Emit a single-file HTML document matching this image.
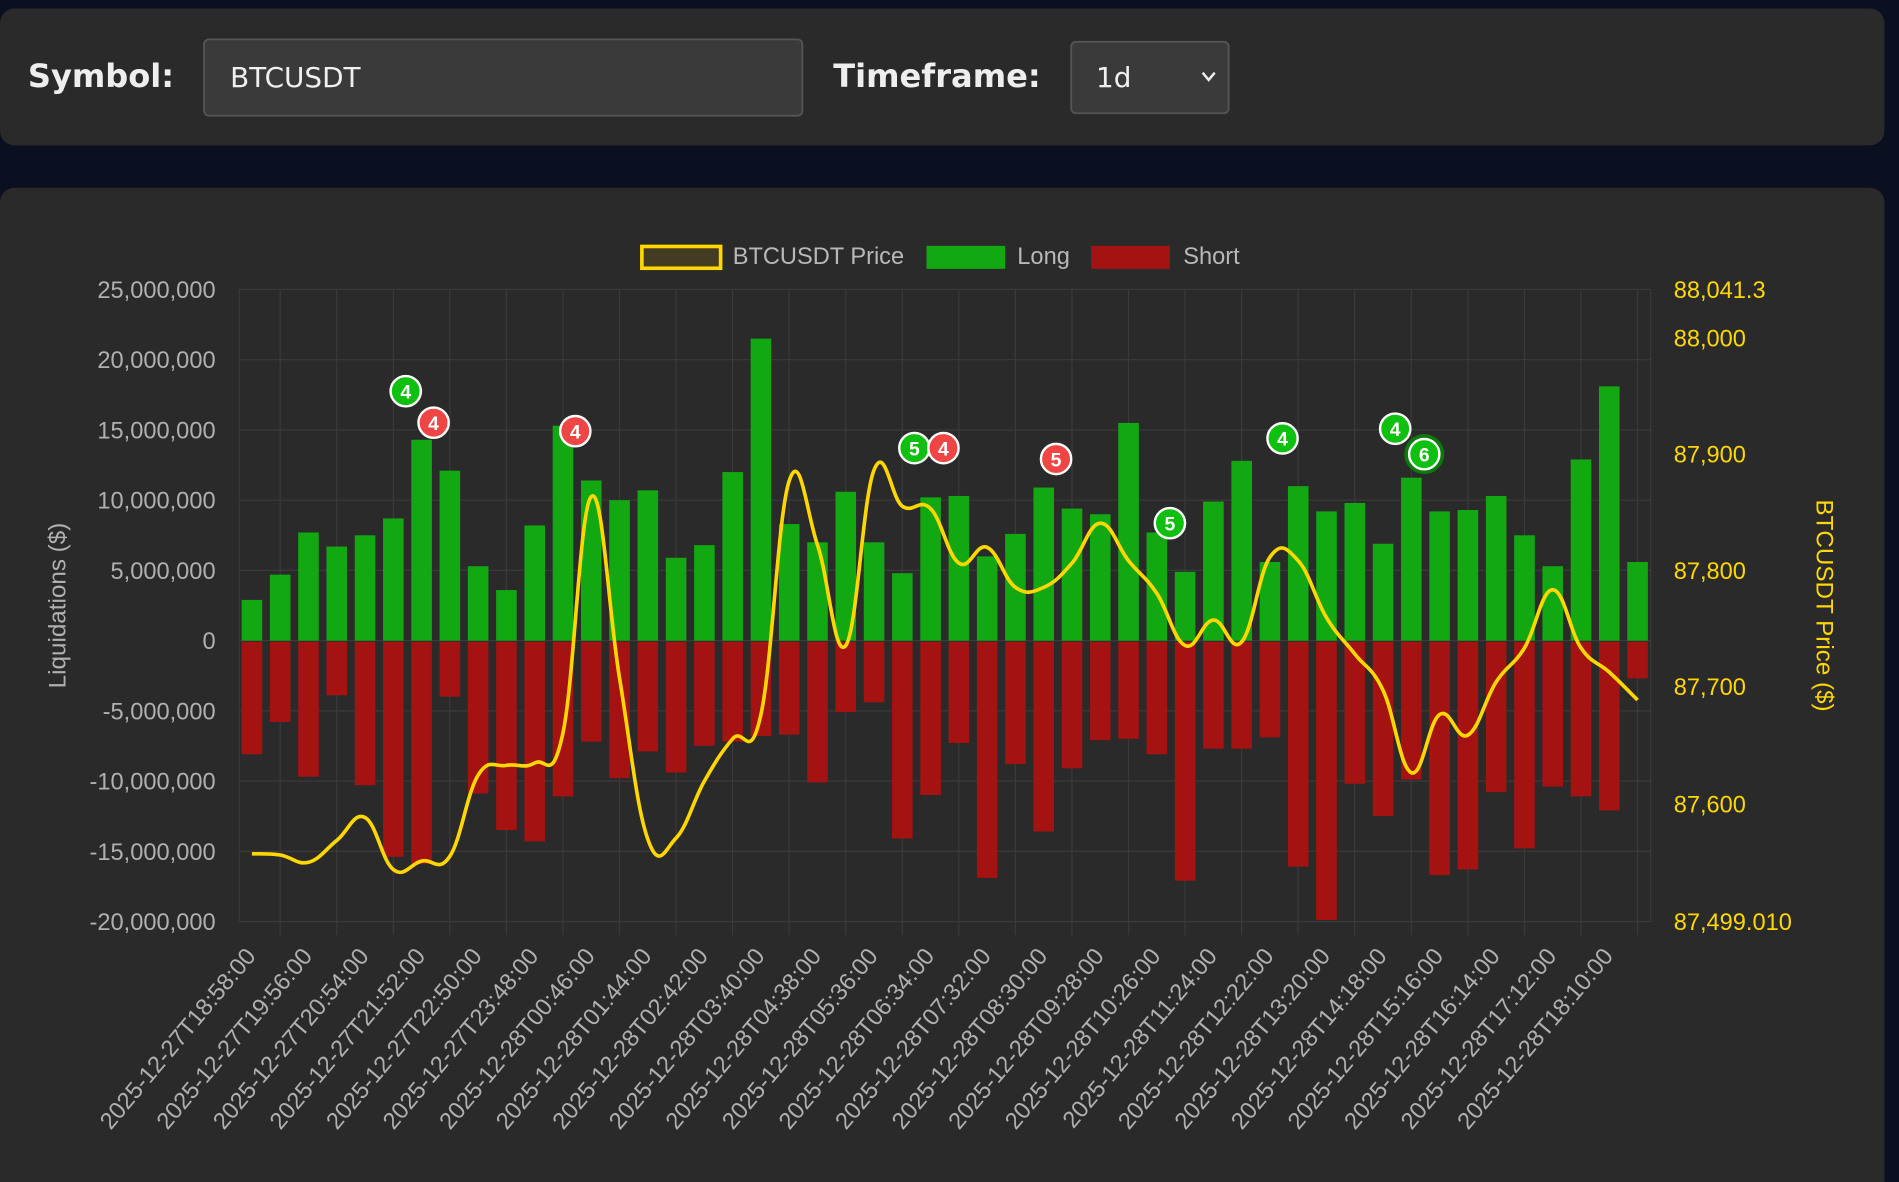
<!DOCTYPE html>
<html><head><meta charset="utf-8"><style>
html,body{margin:0;padding:0;background:#0b1020;width:1899px;height:1182px;overflow:hidden}
svg{display:block}
text{font-family:"Liberation Sans","DejaVu Sans",sans-serif}
</style></head><body>
<svg width="1899" height="1182" viewBox="0 0 1568 976" xmlns="http://www.w3.org/2000/svg">
<rect x="0" y="0" width="1568" height="976" fill="#0b1020"/>
<rect x="0" y="7" width="1556" height="113" rx="12" fill="#2a2a2a"/>
<text x="23" y="72" font-size="26.5" font-weight="bold" fill="#eeeeee" style="font-family:'DejaVu Sans',sans-serif">Symbol:</text>
<rect x="168.5" y="32.5" width="494" height="63" rx="4" fill="#3a3a3a" stroke="#555" stroke-width="1.5"/>
<text x="190" y="72" font-size="23" fill="#f0f0f0" style="font-family:'DejaVu Sans',sans-serif">BTCUSDT</text>
<text x="688" y="72" font-size="26.5" font-weight="bold" fill="#eeeeee" style="font-family:'DejaVu Sans',sans-serif">Timeframe:</text>
<rect x="884.5" y="34.5" width="130" height="59" rx="4" fill="#3a3a3a" stroke="#555" stroke-width="1.5"/>
<text x="905" y="72" font-size="23" fill="#f0f0f0" style="font-family:'DejaVu Sans',sans-serif">1d</text>
<path d="M993 60 L998 66 L1003 60" fill="none" stroke="#eee" stroke-width="2"/>
<rect x="0" y="155" width="1556" height="840" rx="12" fill="#2a2a2a"/>
<!-- legend -->
<rect x="530" y="203.5" width="65" height="18" fill="#433b22" stroke="#ffd700" stroke-width="3"/>
<text x="605" y="218" font-size="19.5" fill="#b8b8b8">BTCUSDT Price</text>
<rect x="765" y="203" width="65" height="19" fill="#12a812"/>
<text x="840" y="218" font-size="19.5" fill="#b8b8b8">Long</text>
<rect x="901" y="203" width="65" height="19" fill="#a51212"/>
<text x="977" y="218" font-size="19.5" fill="#b8b8b8">Short</text>
<g id="grid" stroke="#3a3a3a" stroke-width="1"></g>
<g id="bars"></g>
<path id="price" fill="none" stroke="#ffd700" stroke-width="3"/>
<!-- left ticks -->
<g font-size="19.5" fill="#b0b0b0" text-anchor="end">
<text x="178" y="246">25,000,000</text>
<text x="178" y="304">20,000,000</text>
<text x="178" y="362">15,000,000</text>
<text x="178" y="420">10,000,000</text>
<text x="178" y="478">5,000,000</text>
<text x="178" y="536">0</text>
<text x="178" y="594">-5,000,000</text>
<text x="178" y="652">-10,000,000</text>
<text x="178" y="710">-15,000,000</text>
<text x="178" y="768">-20,000,000</text>
</g>
<text transform="translate(54,500) rotate(-90)" font-size="20" fill="#b0b0b0" text-anchor="middle">Liquidations ($)</text>
<g font-size="19.5" fill="#ffd700">
<text x="1382" y="246">88,041.3</text>
<text x="1382" y="286">88,000</text>
<text x="1382" y="382">87,900</text>
<text x="1382" y="478">87,800</text>
<text x="1382" y="574">87,700</text>
<text x="1382" y="671">87,600</text>
<text x="1382" y="768">87,499.010</text>
</g>
<text transform="translate(1500,500) rotate(90)" font-size="20" fill="#ffd700" text-anchor="middle">BTCUSDT Price ($)</text>
<!-- x labels -->
<g font-size="19.5" fill="#b0b0b0" text-anchor="end">
<text transform="translate(212,790) rotate(-50)">2025-12-27T18:58:00</text>
<text transform="translate(258.7,790) rotate(-50)">2025-12-27T19:56:00</text>
<text transform="translate(305.4,790) rotate(-50)">2025-12-27T20:54:00</text>
<text transform="translate(352.1,790) rotate(-50)">2025-12-27T21:52:00</text>
<text transform="translate(398.8,790) rotate(-50)">2025-12-27T22:50:00</text>
<text transform="translate(445.5,790) rotate(-50)">2025-12-27T23:48:00</text>
<text transform="translate(492.2,790) rotate(-50)">2025-12-28T00:46:00</text>
<text transform="translate(538.9,790) rotate(-50)">2025-12-28T01:44:00</text>
<text transform="translate(585.6,790) rotate(-50)">2025-12-28T02:42:00</text>
<text transform="translate(632.3,790) rotate(-50)">2025-12-28T03:40:00</text>
<text transform="translate(679,790) rotate(-50)">2025-12-28T04:38:00</text>
<text transform="translate(725.7,790) rotate(-50)">2025-12-28T05:36:00</text>
<text transform="translate(772.4,790) rotate(-50)">2025-12-28T06:34:00</text>
<text transform="translate(819.1,790) rotate(-50)">2025-12-28T07:32:00</text>
<text transform="translate(865.8,790) rotate(-50)">2025-12-28T08:30:00</text>
<text transform="translate(912.5,790) rotate(-50)">2025-12-28T09:28:00</text>
<text transform="translate(959.2,790) rotate(-50)">2025-12-28T10:26:00</text>
<text transform="translate(1005.9,790) rotate(-50)">2025-12-28T11:24:00</text>
<text transform="translate(1052.6,790) rotate(-50)">2025-12-28T12:22:00</text>
<text transform="translate(1099.3,790) rotate(-50)">2025-12-28T13:20:00</text>
<text transform="translate(1146,790) rotate(-50)">2025-12-28T14:18:00</text>
<text transform="translate(1192.7,790) rotate(-50)">2025-12-28T15:16:00</text>
<text transform="translate(1239.4,790) rotate(-50)">2025-12-28T16:14:00</text>
<text transform="translate(1286.1,790) rotate(-50)">2025-12-28T17:12:00</text>
<text transform="translate(1332.8,790) rotate(-50)">2025-12-28T18:10:00</text>
</g>
<!-- badges -->
<g stroke="#fff" stroke-width="2" font-size="16" font-weight="bold" text-anchor="middle">
<circle cx="1176" cy="375" r="15" fill="none" stroke="#0a7a0a" stroke-width="3"/>
<circle cx="335" cy="323" r="12.5" fill="#10c010"/>
<circle cx="358" cy="349" r="12.5" fill="#f04545"/>
<circle cx="475" cy="356" r="12.5" fill="#f04545"/>
<circle cx="755" cy="370" r="12.5" fill="#10c010"/>
<circle cx="779" cy="370" r="12.5" fill="#f04545"/>
<circle cx="872" cy="379" r="12.5" fill="#f04545"/>
<circle cx="966" cy="432" r="12.5" fill="#10c010"/>
<circle cx="1059" cy="362" r="12.5" fill="#10c010"/>
<circle cx="1152" cy="354" r="12.5" fill="#10c010"/>
<circle cx="1176" cy="375" r="12.5" fill="#10c010"/>
<g stroke="none" fill="#fff">
<text x="335" y="329">4</text><text x="358" y="355">4</text><text x="475" y="362">4</text>
<text x="755" y="376">5</text><text x="779" y="376">4</text><text x="872" y="385">5</text>
<text x="966" y="438">5</text><text x="1059" y="368">4</text><text x="1152" y="360">4</text>
<text x="1176" y="381">6</text>
</g></g>
</svg>
<script>
var NS="http://www.w3.org/2000/svg";
function el(p,t,a){var e=document.createElementNS(NS,t);for(var k in a)e.setAttribute(k,a[k]);p.appendChild(e);return e;}
var g=document.getElementById('grid');
for(var i=0;i<10;i++){var y=239+58*i;el(g,'line',{x1:197,x2:1363,y1:y,y2:y});}
el(g,'line',{x1:197.5,x2:197.5,y1:239,y2:761});
for(var i=0;i<25;i++){var x=231.3+46.7*i;el(g,'line',{x1:x,x2:x,y1:239,y2:772});}
el(g,'line',{x1:1363,x2:1363,y1:239,y2:761});
var L=[2.9,4.7,7.7,6.7,7.5,8.7,14.3,12.1,5.3,3.6,8.2,15.3,11.4,10,10.7,5.9,6.8,12,21.5,8.3,7,10.6,7,4.8,10.2,10.3,6,7.6,10.9,9.4,9,15.5,7.7,4.9,9.9,12.8,5.6,11,9.2,9.8,6.9,11.6,9.2,9.3,10.3,7.5,5.3,12.9,18.1,5.6];
var S=[8,5.7,9.6,3.8,10.2,15.3,15.8,3.9,10.8,13.4,14.2,11,7.1,9.7,7.8,9.3,7.4,7.1,6.7,6.6,10,5,4.3,14,10.9,7.2,16.8,8.7,13.5,9,7,6.9,8,17,7.6,7.6,6.8,16,19.8,10.1,12.4,9.8,16.6,16.2,10.7,14.7,10.3,11,12,2.6];
var b=document.getElementById('bars');
for(var i=0;i<50;i++){var c=208+23.35*i;var h=L[i]*11.6,s=S[i]*11.6;
el(b,'rect',{x:c-8.5,y:529-h,width:17,height:h,fill:'#12a812'});
el(b,'rect',{x:c-8.5,y:530,width:17,height:s,fill:'#a51212'});}
var P=[705,706,712,694,675,718,711,707,640,632,630,605,410,560,693,692,645,610,590,397,450,533,388,418,420,465,452,485,485,465,432,463,490,533,512,530,460,463,510,540,570,638,590,607,563,535,487,535,555,578];
var pts=P.map(function(y,i){return [208+23.35*i,y];});
var d="M"+pts[0][0]+" "+pts[0][1];
for(var i=0;i<pts.length-1;i++){var p0=pts[Math.max(i-1,0)],p1=pts[i],p2=pts[i+1],p3=pts[Math.min(i+2,pts.length-1)];
var t=0.4;
d+=" C"+(p1[0]+(p2[0]-p0[0])*t/2)+" "+(p1[1]+(p2[1]-p0[1])*t/2)+" "+(p2[0]-(p3[0]-p1[0])*t/2)+" "+(p2[1]-(p3[1]-p1[1])*t/2)+" "+p2[0]+" "+p2[1];}
document.getElementById('price').setAttribute('d',d);
</script>
</body></html>
